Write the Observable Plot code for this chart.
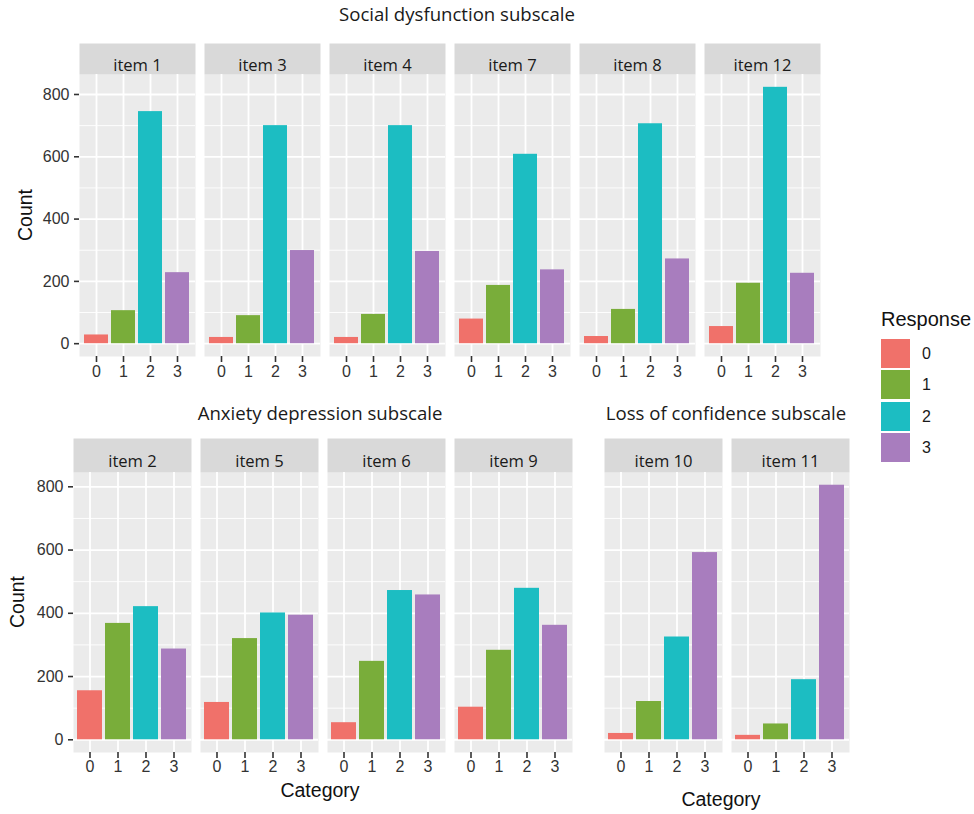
<!DOCTYPE html>
<html>
<head>
<meta charset="utf-8">
<script src="https://cdn.jsdelivr.net/npm/d3@7"></script>
<script src="https://cdn.jsdelivr.net/npm/@observablehq/plot@0.6"></script>
<style>
  body { margin: 0; background: #fff; }
  #chart { position: relative; width: 974px; height: 814px; background: #fff; overflow: hidden;
           font-family: "Liberation Sans", Arial, sans-serif; }
  #chart svg { position: absolute; }
  .txt { position: absolute; white-space: nowrap; line-height: 1; font-family: "Liberation Sans", Arial, sans-serif; }
  .title { font-family: "Open Sans", sans-serif; font-size: 18.6px; color: #1a1a1a; transform: translateX(-50%); }
  .axis-title { font-size: 19.5px; color: #111; }
  .center { transform: translateX(-50%); }
  .rot { transform: translate(-50%, -50%) rotate(-90deg); }
  .legend-title { font-size: 20px; color: #111; }
  .key { position: absolute; width: 29px; height: 29px; }
  .key-label { position: absolute; font-family: "Liberation Sans", Arial, sans-serif; font-size: 16px; color: #1a1a1a; line-height: 29px; }
</style>
</head>
<body>
<div id="chart"></div>
<script>
// Response categories and y tick values
const categories = ["0", "1", "2", "3"];
const countTicks = [0, 200, 400, 600, 800];

// Social dysfunction subscale: counts per response (0, 1, 2, 3)
const socialItems = ["item 1", "item 3", "item 4", "item 7", "item 8", "item 12"];
const socialCounts = [
  [28, 106, 745, 228],
  [20, 90, 700, 299],
  [20, 94, 700, 296],
  [79, 187, 608, 237],
  [23, 110, 706, 272],
  [55, 194, 823, 226]
];

// Anxiety depression subscale
const anxietyItems = ["item 2", "item 5", "item 6", "item 9"];
const anxietyCounts = [
  [155, 368, 421, 287],
  [118, 320, 401, 394],
  [54, 248, 472, 458],
  [103, 283, 479, 362]
];

// Loss of confidence subscale
const confidenceItems = ["item 10", "item 11"];
const confidenceCounts = [
  [20, 121, 325, 592],
  [14, 50, 190, 805]
];

const palette = ["#F0716A", "#79AD3A", "#1CBDC2", "#A87DBE"];
const tickFont = "'Liberation Sans', Arial, sans-serif";

function toRows(items, counts) {
  return items.flatMap((item, i) =>
    categories.map((category, j) => ({item, category, count: counts[i][j]})));
}

// ggplot-style 5% expansion around [0, max]
function paddedDomain(...sets) {
  const max = d3.max(sets.flat(2));
  return [-0.05 * max, 1.05 * max];
}

function facetRow({items, counts, yDomain, width, height, marginLeft, marginTop, marginBottom,
                   stripHeight, xTickPadding, showY}) {
  const panelHeight = height - marginTop - marginBottom;
  const minorTicks = d3.pairs(countTicks, (a, b) => (a + b) / 2);
  return Plot.plot({
    width, height, marginLeft, marginRight: 7, marginTop, marginBottom,
    style: {background: "none", fontFamily: tickFont, fontSize: "16px", overflow: "visible"},
    fx: {domain: items, paddingInner: 0.0715, paddingOuter: 0, axis: null, label: null},
    x: {domain: categories, paddingInner: 0.1, paddingOuter: 0.15, axis: null, label: null},
    y: {domain: yDomain, axis: null, label: null},
    color: {domain: categories, range: palette},
    marks: [
      // panel background and strip
      Plot.frame({fill: "#ebebeb", stroke: "none"}),
      Plot.frame({fill: "#d9d9d9", stroke: "none", insetTop: -stripHeight, insetBottom: panelHeight}),
      Plot.gridY(minorTicks, {stroke: "white", strokeOpacity: 1, strokeWidth: 0.9}),
      Plot.gridY(countTicks, {stroke: "white", strokeOpacity: 1, strokeWidth: 1.8}),
      Plot.gridX({stroke: "white", strokeOpacity: 1, strokeWidth: 1.8}),
      Plot.barY(toRows(items, counts), {fx: "item", x: "category", y: "count", fill: "category"}),
      Plot.text(items, {fx: d => d, text: d => d, frameAnchor: "top", dy: -stripHeight / 2,
                        fontFamily: "'Open Sans', sans-serif", fontSize: 16.6, fill: "#1a1a1a"}),
      Plot.axisX({tickSize: 6, tickPadding: xTickPadding, stroke: "#333", strokeWidth: 1.6, fill: "#333",
                  fontSize: 16, fontFamily: tickFont, label: null}),
      showY ? Plot.axisY(countTicks, {tickSize: 5, tickPadding: 5, stroke: "#333", strokeWidth: 1.6,
                                     fill: "#333", fontSize: 16, fontFamily: tickFont, label: null}) : null
    ]
  });
}

const chart = document.getElementById("chart");

function place(el, left, top) {
  el.style.left = left + "px";
  el.style.top = top + "px";
  chart.appendChild(el);
}

function addText(text, cls, left, top) {
  const d = document.createElement("div");
  d.className = "txt " + cls;
  d.textContent = text;
  place(d, left, top);
  return d;
}

const topDomain = paddedDomain(socialCounts);
const bottomDomain = paddedDomain(anxietyCounts, confidenceCounts);

place(facetRow({items: socialItems, counts: socialCounts, yDomain: topDomain,
  width: 830, height: 386, marginLeft: 77, marginTop: 74, marginBottom: 30, stripHeight: 31,
  xTickPadding: 3, showY: true}), 0, 0);

place(facetRow({items: anxietyItems, counts: anxietyCounts, yDomain: bottomDomain,
  width: 579, height: 390, marginLeft: 73, marginTop: 82, marginBottom: 28, stripHeight: 34,
  xTickPadding: 2, showY: true}), 0, 390);

place(facetRow({items: confidenceItems, counts: confidenceCounts, yDomain: bottomDomain,
  width: 296, height: 390, marginLeft: 43, marginTop: 82, marginBottom: 28, stripHeight: 34,
  xTickPadding: 2, showY: false}), 560, 390);

// Subscale titles
addText("Social dysfunction subscale", "title", 457, 5);
addText("Anxiety depression subscale", "title", 320, 404);
addText("Loss of confidence subscale", "title", 726, 404);

// Axis titles
addText("Count", "axis-title rot", 26, 215);
addText("Count", "axis-title rot", 18, 602);
addText("Category", "axis-title center", 320, 781);
addText("Category", "axis-title center", 721, 790);

// Legend
addText("Response", "legend-title", 881, 309);
categories.forEach((c, i) => {
  const key = document.createElement("div");
  key.className = "key";
  key.style.background = palette[i];
  place(key, 881, 339 + i * 31.3);
  const lab = document.createElement("div");
  lab.className = "key-label";
  lab.textContent = c;
  place(lab, 922, 339 + i * 31.3);
});
</script>
</body>
</html>
